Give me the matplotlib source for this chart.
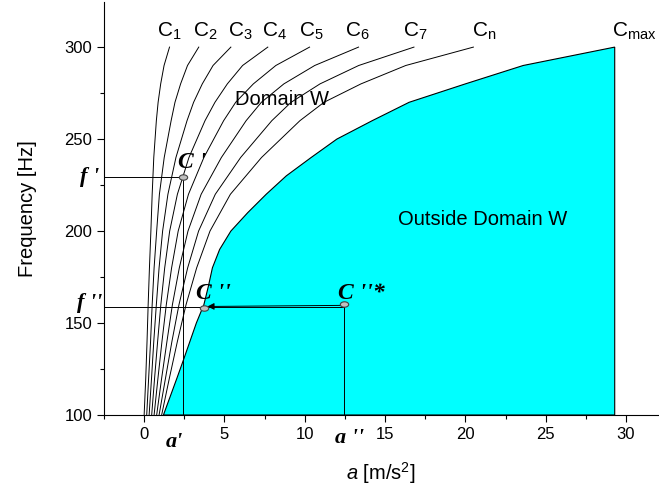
import matplotlib
matplotlib.use("Agg")
import matplotlib.pyplot as plt
from matplotlib.markers import MarkerStyle
from matplotlib.transforms import Affine2D
from matplotlib.ticker import MultipleLocator

plt.rcParams['font.family'] = ['Liberation Sans', 'DejaVu Sans']
plt.rcParams['mathtext.fontset'] = 'custom'
plt.rcParams['mathtext.rm'] = 'Liberation Sans'
plt.rcParams['mathtext.it'] = 'Liberation Sans:italic'

# frequency grid for the C_i curves [Hz]
f_curves = [100, 120, 140, 160, 180, 200, 220, 240, 260, 270, 280, 290, 300]
# acceleration of each curve at those frequencies [m/s^2]
c1 = [0.00, 0.10, 0.18, 0.25, 0.33, 0.42, 0.50, 0.60, 0.76, 0.87, 1.03, 1.24, 1.58]
c2 = [0.16, 0.28, 0.40, 0.50, 0.62, 0.78, 0.95, 1.25, 1.68, 1.92, 2.27, 2.70, 3.40]
c3 = [0.31, 0.46, 0.60, 0.76, 0.93, 1.15, 1.48, 1.98, 2.67, 3.08, 3.62, 4.29, 5.40]
c4 = [0.47, 0.65, 0.84, 1.04, 1.28, 1.59, 2.07, 2.79, 3.79, 4.41, 5.18, 6.13, 7.70]
c5 = [0.62, 0.86, 1.11, 1.38, 1.71, 2.12, 2.76, 3.72, 4.95, 5.70, 6.80, 8.20, 10.30]
c6 = [0.78, 1.09, 1.42, 1.76, 2.19, 2.73, 3.55, 4.81, 6.35, 7.30, 8.70, 10.62, 13.35]
c7 = [0.93, 1.33, 1.73, 2.17, 2.71, 3.39, 4.43, 6.01, 7.95, 9.15, 10.95, 13.36, 16.80]
cn = [1.09, 1.57, 2.07, 2.61, 3.27, 4.10, 5.37, 7.31, 9.70, 11.20, 13.50, 16.29, 20.50]
curve_names = ['1', '2', '3', '4', '5', '6', '7', 'n']
label_x = [0.81, 3.05, 5.23, 7.35, 9.65, 12.5, 16.1, 20.4]

# boundary of the domain (C_max)
f_max = [100, 110, 120, 130, 140, 150, 160, 170, 180, 190, 200,
         210, 220, 230, 240, 250, 260, 270, 280, 290, 300]
a_max = [1.2, 1.62, 2.04, 2.45, 2.85, 3.25, 3.72, 4.0, 4.25, 4.7, 5.4,
         6.45, 7.6, 8.85, 10.4, 12.0, 14.2, 16.5, 20.0, 23.6, 29.3]

# working points
a1, f1 = 2.45, 229.5      # C'
a2, f2 = 3.74, 158.3      # C''
a3, f3 = 12.45, 160.3     # C''*

fig = plt.figure(figsize=(6.59, 4.95), dpi=100)
ax = fig.add_axes([0.1578, 0.1616, 0.8408, 0.8343])

# outside domain W
poly_a = a_max + [a_max[-1], a_max[0]]
poly_f = f_max + [100, 100]
ax.fill(poly_a, poly_f, facecolor='#00ffff', edgecolor='black', lw=0.8, zorder=1)

for vals in [c1, c2, c3, c4, c5, c6, c7, cn]:
    ax.plot(vals, f_curves, color='black', lw=0.7, zorder=2)

for name, x in zip(curve_names, label_x):
    ax.text(x, 305.4, r'$\mathregular{C_{%s}}$' % name, fontsize=15,
            ha='left', va='baseline')
ax.text(29.1, 305.4, r'$\mathregular{C_{max}}$', fontsize=15, ha='left', va='baseline')

# guide lines
ax.plot([-2.5, a1], [f1, f1], color='black', lw=0.7, zorder=3)
ax.plot([a1, a1], [100, f1], color='black', lw=0.7, zorder=3)
ax.plot([-2.5, a3], [158.5, 158.5], color='black', lw=0.7, zorder=3)
ax.plot([a3, a3], [100, f3], color='black', lw=0.7, zorder=3)
ax.annotate('', xy=(a2 + 0.2, 159.0), xytext=(a3, 159.6),
            arrowprops=dict(arrowstyle='-|>', color='black', lw=0.7,
                            mutation_scale=10, shrinkA=0, shrinkB=0), zorder=4)

ell = MarkerStyle('o', transform=Affine2D().scale(1.0, 0.65))
ax.plot([a1, a2, a3], [f1, f2, f3], ls='none', marker=ell, markersize=6,
        markerfacecolor='#c0c0c0', markeredgecolor='#404040', mew=0.8, zorder=5)

lab = dict(family='Liberation Serif', style='italic', weight='bold', fontsize=17)
ax.text(2.1, 231.5, "C '", ha='left', va='bottom', **lab)
ax.text(3.2, 160.5, "C ''", ha='left', va='bottom', **lab)
ax.text(12.1, 160.5, "C ''*", ha='left', va='bottom', **lab)

side = dict(family='Liberation Serif', style='italic', weight='bold', fontsize=16)
ax.text(-0.008, f1, "f '", transform=ax.get_yaxis_transform(), ha='right', va='center', **side)
ax.text(-0.049, 161.0, "f ''", transform=ax.get_yaxis_transform(), ha='left', va='center', **side)
ax.text(1.9, -0.065, "a'", transform=ax.get_xaxis_transform(), ha='center', va='center', **side)
ax.text(12.8, -0.055, "a ''", transform=ax.get_xaxis_transform(), ha='center', va='center', **side)

ax.text(8.58, 268.5, 'Domain W', fontsize=14.5, ha='center', va='baseline')
ax.text(21.1, 203.3, 'Outside Domain W', fontsize=14.5, ha='center', va='baseline')

ax.set_xlim(-2.5, 32)
ax.set_ylim(100, 324.5)
ax.xaxis.set_major_locator(MultipleLocator(5))
ax.xaxis.set_minor_locator(MultipleLocator(2.5))
ax.yaxis.set_major_locator(MultipleLocator(50))
ax.yaxis.set_minor_locator(MultipleLocator(25))
ax.tick_params(which='both', direction='out', labelsize=12, width=0.8)
ax.tick_params(which='major', length=5)
ax.tick_params(which='minor', length=3)
ax.spines['top'].set_visible(False)
ax.spines['right'].set_visible(False)

ax.set_ylabel('Frequency [Hz]', fontsize=14.5, labelpad=20)
ax.set_xlabel(r'$\mathit{a}$ [m/s$^2$]', fontsize=14.5, labelpad=13)

fig.savefig('out.png', dpi=100)
